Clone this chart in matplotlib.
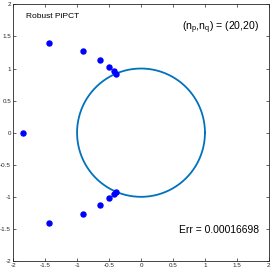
import matplotlib
matplotlib.use("Agg")
import matplotlib.pyplot as plt
import numpy as np

# poles found by the method (upper half, mirrored below)
pole_re = [-1.85, -1.44, -0.90, -0.64, -0.505, -0.43, -0.395]
pole_im = [0.0, 1.405, 1.275, 1.13, 1.025, 0.955, 0.92]
err_text = "Err = 0.00016698"
title_text = "Robust PiPCT"
n_text = r"(n$_\mathregular{p}$,n$_\mathregular{q}$) = (20,20)"

plt.rcParams['font.family'] = ['Liberation Sans', 'DejaVu Sans']
plt.rcParams['mathtext.fontset'] = 'custom'
plt.rcParams['mathtext.rm'] = 'Liberation Sans'
plt.rcParams['mathtext.it'] = 'Liberation Sans'

fig = plt.figure(figsize=(2.73, 2.73), dpi=100)
ax = fig.add_axes([0.048, 0.044, 0.937, 0.94])

t = np.linspace(0, 2 * np.pi, 400)
ax.plot(np.cos(t), np.sin(t), color=(0, 0.447, 0.741), lw=1.3)

x = np.array(pole_re + pole_re[1:])
y = np.array(pole_im + [-v for v in pole_im[1:]])
ax.plot(x, y, 'o', color='blue', ms=3.6, mec='blue')

ax.set_xlim(-2, 2)
ax.set_ylim(-2, 2)
ticks = np.arange(-2, 2.01, 0.5)
ax.set_xticks(ticks)
ax.set_yticks(ticks)
ax.set_xticklabels([f"{v:g}" for v in ticks])
ax.set_yticklabels([f"{v:g}" for v in ticks])
ax.tick_params(direction='in', length=2.5, width=0.5, labelsize=4.5,
               colors='#262626', top=True, right=True, pad=1.5)
for s in ax.spines.values():
    s.set_linewidth(0.6)
    s.set_color('#262626')

ax.text(-1.8, 1.81, title_text, fontsize=6, va='center', ha='left')
ax.text(1.84, 1.63, n_text, fontsize=7.6, va='center', ha='right')
ax.text(1.84, -1.52, err_text, fontsize=7.4, va='center', ha='right')

fig.savefig("out.png", dpi=100)
